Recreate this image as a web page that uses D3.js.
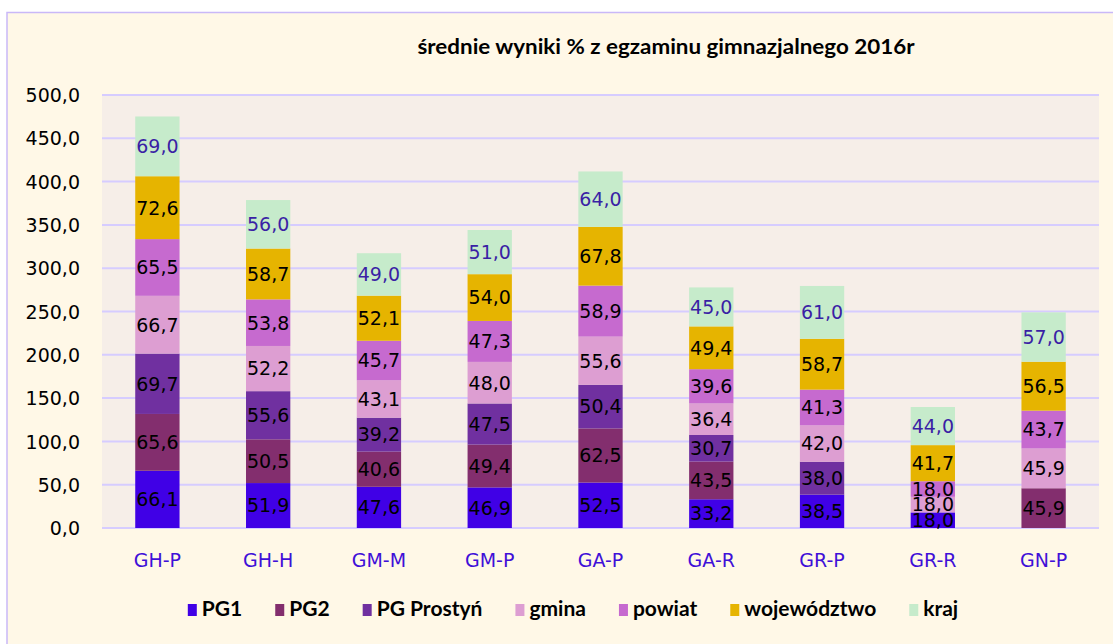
<!DOCTYPE html>
<html><head><meta charset="utf-8">
<script src="https://cdn.jsdelivr.net/npm/d3@7"></script>
<style>
html,body{margin:0;padding:0;background:#fff;}
svg{display:block;}
</style></head>
<body>
<script>
const categories = ["GH-P","GH-H","GM-M","GM-P","GA-P","GA-R","GR-P","GR-R","GN-P"];
const seriesNames = ["PG1","PG2","PG Prostyń","gmina","powiat","województwo","kraj"];
const PG1        = [66.1, 51.9, 47.6, 46.9, 52.5, 33.2, 38.5, 18.0, null];
const PG2        = [65.6, 50.5, 40.6, 49.4, 62.5, 43.5, null, null, 45.9];
const PGProstyn  = [69.7, 55.6, 39.2, 47.5, 50.4, 30.7, 38.0, null, null];
const gmina      = [66.7, 52.2, 43.1, 48.0, 55.6, 36.4, 42.0, 18.0, 45.9];
const powiat     = [65.5, 53.8, 45.7, 47.3, 58.9, 39.6, 41.3, 18.0, 43.7];
const wojewodztwo= [72.6, 58.7, 52.1, 54.0, 67.8, 49.4, 58.7, 41.7, 56.5];
const kraj       = [69.0, 56.0, 49.0, 51.0, 64.0, 45.0, 61.0, 44.0, 57.0];
const yTicks = [0,50,100,150,200,250,300,350,400,450,500];
const title = "średnie wyniki % z egzaminu gimnazjalnego 2016r";

const seriesValues = [PG1,PG2,PGProstyn,gmina,powiat,wojewodztwo,kraj];
const colors = ["#4000E6","#832E6E","#7030A0","#DD9ED2","#C66ACF","#E6B400","#C6EBCB"];
const labelColors = ["#000","#000","#000","#000","#000","#000","#3A1FA5"];

const W=1113,H=644;
const svg=d3.select("body").append("svg").attr("width",W).attr("height",H);
svg.append("rect").attr("x",0).attr("y",0).attr("width",W).attr("height",H).attr("fill","#fff");
svg.append("rect").attr("x",7).attr("y",12.5).attr("width",W).attr("height",H).attr("fill","#FFF8E7").attr("stroke","#C9B8F8").attr("stroke-width",1.5);

const plot={left:102,right:1099,top:95,bottom:528};
svg.append("rect").attr("x",plot.left).attr("y",plot.top).attr("width",plot.right-plot.left).attr("height",plot.bottom-plot.top).attr("fill","#F6EEE8");

const x=d3.scaleBand().domain(categories).range([plot.left,plot.right]).paddingInner(0.6).paddingOuter(0.3);
const y=d3.scaleLinear().domain([0,500]).range([plot.bottom,plot.top]);

// grid
svg.append("g").selectAll("line").data(yTicks).join("line")
  .attr("x1",plot.left).attr("x2",plot.right)
  .attr("y1",d=>y(d)).attr("y2",d=>y(d))
  .attr("stroke","#D6CCFF").attr("stroke-width",2);

const fmt=v=>d3.format(".1f")(v).replace(".",",");

// y axis
const yAxis=d3.axisLeft(y).tickValues(yTicks).tickFormat(fmt).tickSize(0).tickPadding(0);
const gy=svg.append("g").attr("transform",`translate(80,0)`).call(yAxis);
gy.select(".domain").remove();
gy.selectAll("text").attr("font-family","DejaVu Sans").attr("font-size",19).attr("fill","#000").attr("dy","0.35em");

// x axis
const xAxis=d3.axisBottom(x).tickSize(0).tickPadding(0);
const gx=svg.append("g").attr("transform",`translate(0,${plot.bottom})`).call(xAxis);
gx.select(".domain").remove();
gx.selectAll("text").attr("font-family","DejaVu Sans").attr("font-size",19).attr("fill","#3F10D8").attr("dy",0).attr("y",39);

// stack
const rows=categories.map((c,i)=>{const o={cat:c};seriesNames.forEach((s,j)=>o[s]=seriesValues[j][i]||0);return o;});
const stack=d3.stack().keys(seriesNames)(rows);
const bw=x.bandwidth();
stack.forEach((layer,j)=>{
  const g=svg.append("g");
  g.selectAll("rect").data(layer.filter(d=>d[1]-d[0]>0)).join("rect")
    .attr("x",d=>x(d.data.cat)).attr("width",bw)
    .attr("y",d=>y(d[1])).attr("height",d=>y(d[0])-y(d[1]))
    .attr("fill",colors[j]);
});
stack.forEach((layer,j)=>{
  svg.append("g").selectAll("text").data(layer.filter(d=>d[1]-d[0]>0)).join("text")
    .attr("x",d=>x(d.data.cat)+bw/2).attr("y",d=>(y(d[0])+y(d[1]))/2)
    .attr("dy","0.36em").attr("text-anchor","middle")
    .attr("font-family","DejaVu Sans").attr("font-size",19).attr("fill",labelColors[j])
    .text(d=>fmt(d[1]-d[0]));
});

// title
svg.append("text").attr("x",666).attr("y",54).attr("text-anchor","middle")
  .attr("font-family","Lato, sans-serif").attr("font-weight","bold").attr("font-size",20)
  .attr("textLength",497).attr("lengthAdjust","spacingAndGlyphs")
  .attr("fill","#000").text(title);

// legend
const lg=svg.append("g");
let lx=0;
const items=[];
seriesNames.forEach((s,j)=>{
  const it=lg.append("g");
  it.append("rect").attr("x",0).attr("y",-8).attr("width",9).attr("height",12).attr("fill",colors[j]);
  const t=it.append("text").attr("x",14).attr("y",4).attr("font-family","Lato, sans-serif").attr("font-weight","bold").attr("font-size",21).attr("fill","#000").text(s);
  const w=14+t.node().getComputedTextLength();
  items.push({it,w});
});
const gap=33;
const total=d3.sum(items,d=>d.w)+gap*(items.length-1);
lx=573-total/2;
items.forEach(d=>{d.it.attr("transform",`translate(${lx},612)`);lx+=d.w+gap;});
</script>
</body></html>
